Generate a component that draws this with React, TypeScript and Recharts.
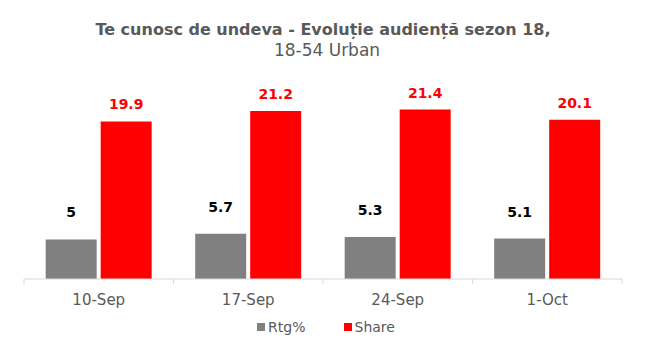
import { Bar, BarChart, LabelList, XAxis, YAxis } from "recharts";

const weeks = ["10-Sep", "17-Sep", "24-Sep", "1-Oct"];
const rtg = [5, 5.7, 5.3, 5.1];
const share = [19.9, 21.2, 21.4, 20.1];

const data = weeks.map((week, i) => ({ week, rtg: rtg[i], share: share[i] }));

const W = 670;
const H = 356;
// bottom leaves room for the 30px x-axis band on top of the 47px gap
const margin = { top: 81, right: 48, left: 24, bottom: 47 };
const band = (W - margin.left - margin.right) / weeks.length;
const font = "'DejaVu Sans', sans-serif";
const textGrey = "#595959";

function WeekTick(props: any) {
  const { x, y, payload, index } = props;
  const left = x - band / 2;
  return (
    <g>
      <line x1={left} y1={y - 8} x2={left} y2={y - 3} stroke="#d9d9d9" />
      {index === weeks.length - 1 && (
        <line x1={left + band} y1={y - 8} x2={left + band} y2={y - 3} stroke="#d9d9d9" />
      )}
      <text x={x} y={y + 18} textAnchor="middle" fill={textGrey} fontSize={15} fontFamily={font}>
        {payload.value}
      </text>
    </g>
  );
}

const legendItems = [
  { name: "Rtg%", color: "#808080" },
  { name: "Share", color: "#ff0000" },
];

export default function App() {
  return (
    <div style={{ position: "absolute", left: 0, top: 0, width: W, height: H, background: "#fff" }}>
      <div
        style={{
          position: "absolute",
          top: 19,
          left: 0,
          width: W,
          textAlign: "center",
          fontFamily: font,
          color: textGrey,
          lineHeight: "21px",
        }}
      >
        <div style={{ fontSize: 16, fontWeight: "bold", marginLeft: -24 }}>
          Te cunosc de undeva - Evoluție audiență sezon 18,
        </div>
        <div style={{ fontSize: 17, marginLeft: -16 }}>18-54 Urban</div>
      </div>
      <BarChart width={W} height={H} data={data} margin={margin} barGap={4} barCategoryGap="14.5%">
        <XAxis
          dataKey="week"
          axisLine={{ stroke: "#d9d9d9" }}
          tickLine={false}
          tick={<WeekTick />}
          interval={0}
        />
        <YAxis hide domain={[0, 25]} />
        <Bar dataKey="rtg" name="Rtg%" fill="#808080" isAnimationActive={false}>
          <LabelList
            dataKey="rtg"
            position="top"
            offset={22}
            fill="#000"
            fontSize={14}
            fontWeight="bold"
            fontFamily={font}
          />
        </Bar>
        <Bar dataKey="share" name="Share" fill="#ff0000" isAnimationActive={false}>
          <LabelList
            dataKey="share"
            position="top"
            offset={12}
            fill="#ff0000"
            fontSize={14}
            fontWeight="bold"
            fontFamily={font}
          />
        </Bar>
      </BarChart>
      <div
        style={{
          position: "absolute",
          top: 319,
          left: -9,
          width: W,
          display: "flex",
          justifyContent: "center",
          gap: 38,
          fontFamily: font,
          fontSize: 14,
          color: textGrey,
        }}
      >
        {legendItems.map((it) => (
          <span key={it.name} style={{ display: "flex", alignItems: "center", gap: 3 }}>
            <span style={{ width: 8, height: 8, background: it.color, display: "inline-block" }} />
            {it.name}
          </span>
        ))}
      </div>
    </div>
  );
}
